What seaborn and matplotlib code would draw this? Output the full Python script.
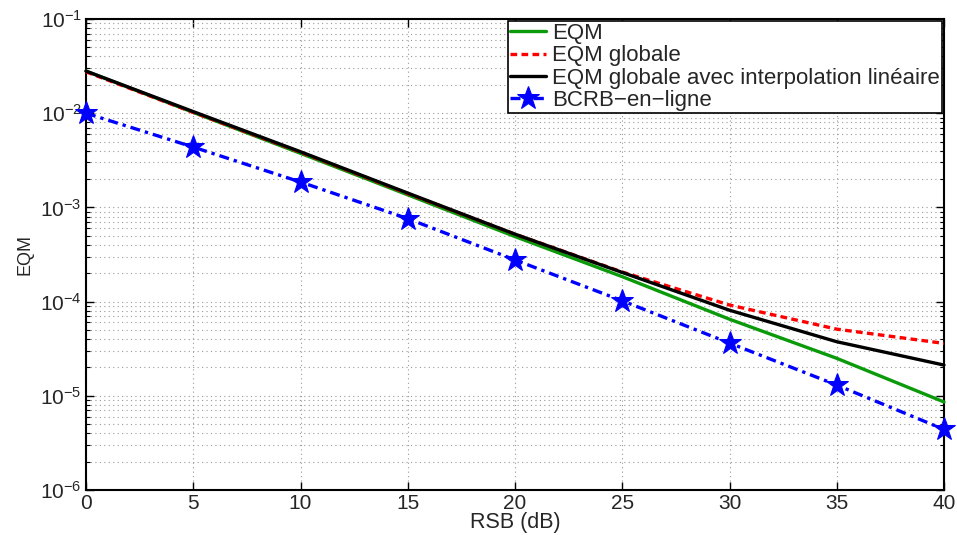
import numpy as np
import pandas as pd
import matplotlib
matplotlib.use("Agg")
import matplotlib.pyplot as plt
import seaborn as sns
from matplotlib.ticker import LogLocator, NullFormatter, MultipleLocator

rsb = [0, 5, 10, 15, 20, 25, 30, 35, 40]
eqm = [2.8e-2, 1.02e-2, 3.75e-3, 1.36e-3, 4.9e-4, 1.84e-4, 6.5e-5, 2.5e-5, 8.6e-6]
eqm_globale = [2.75e-2, 1.02e-2, 3.85e-3, 1.4e-3, 5.2e-4, 2.06e-4, 9.2e-5, 5.1e-5, 3.6e-5]
eqm_interp = [2.8e-2, 1.04e-2, 3.9e-3, 1.42e-3, 5.2e-4, 2.04e-4, 8.1e-5, 3.75e-5, 2.12e-5]
bcrb = [1.0e-2, 4.37e-3, 1.86e-3, 7.6e-4, 2.77e-4, 1.02e-4, 3.63e-5, 1.3e-5, 4.4e-6]

labels = ["EQM", "EQM globale", "EQM globale avec interpolation linéaire", "BCRB\u2212en\u2212ligne"]
colors = ["#0a9a0a", "#ff0000", "#000000", "#0000ff"]

sns.set_style("ticks")
plt.rcParams['font.family'] = ['Liberation Sans', 'DejaVu Sans']
plt.rcParams['mathtext.fontset'] = 'custom'
plt.rcParams['mathtext.rm'] = 'Liberation Sans'
plt.rcParams['mathtext.it'] = 'Liberation Sans'

fig = plt.figure(figsize=(9.57, 5.35), dpi=100)
ax = fig.add_axes([86 / 957, 1 - 490 / 535, (944 - 86) / 957, (490 - 19) / 535])

series = [eqm, eqm_globale, eqm_interp, bcrb]
styles = [dict(linestyle="-"),
          dict(linestyle=(0, (2, 1.3))),
          dict(linestyle="-"),
          dict(linestyle=(0, (3, 1.5, 1, 1.5)), marker="*", markersize=17,
               markeredgecolor="#0000ff", markerfacecolor="#0000ff")]
for vals, lab, col, st in zip(series, labels, colors, styles):
    sns.lineplot(x=rsb, y=vals, color=col, label=lab, linewidth=2.4,
                 ax=ax, clip_on=False, zorder=3, **st)

ax.set_yscale("log")
ax.set_xlim(0, 40)
ax.set_ylim(1e-6, 1e-1)
ax.xaxis.set_major_locator(MultipleLocator(5))
ax.yaxis.set_major_locator(LogLocator(base=10, numticks=10))
ax.yaxis.set_minor_locator(LogLocator(base=10, subs=np.arange(2, 10), numticks=20))
ax.yaxis.set_minor_formatter(NullFormatter())

ax.grid(True, which="major", linestyle=(0, (1, 3)), color="#999999", linewidth=0.8)
ax.grid(True, which="minor", axis="y", linestyle=(0, (1, 3)), color="#999999", linewidth=0.8)

ax.tick_params(which="both", direction="in", top=True, right=True, labelsize=15, color="black", pad=3)
ax.tick_params(which="major", length=6, width=1)
ax.tick_params(which="minor", length=3, width=0.8)
for s in ax.spines.values():
    s.set_linewidth(1.5)
    s.set_color("black")
    s.set_visible(True)

ax.set_xlabel("RSB (dB)", fontsize=15.5, labelpad=-1)
ax.set_ylabel("EQM", fontsize=13, labelpad=5)

h, l = ax.get_legend_handles_labels()
leg = ax.legend(h, l, loc="upper right", fontsize=16, frameon=True, fancybox=False,
                edgecolor="black", borderpad=0.1, labelspacing=0.06, handlelength=1.6,
                handletextpad=0.3, borderaxespad=0.08, framealpha=1)
leg.get_frame().set_linewidth(1.2)

fig.savefig("out.png", dpi=100)
